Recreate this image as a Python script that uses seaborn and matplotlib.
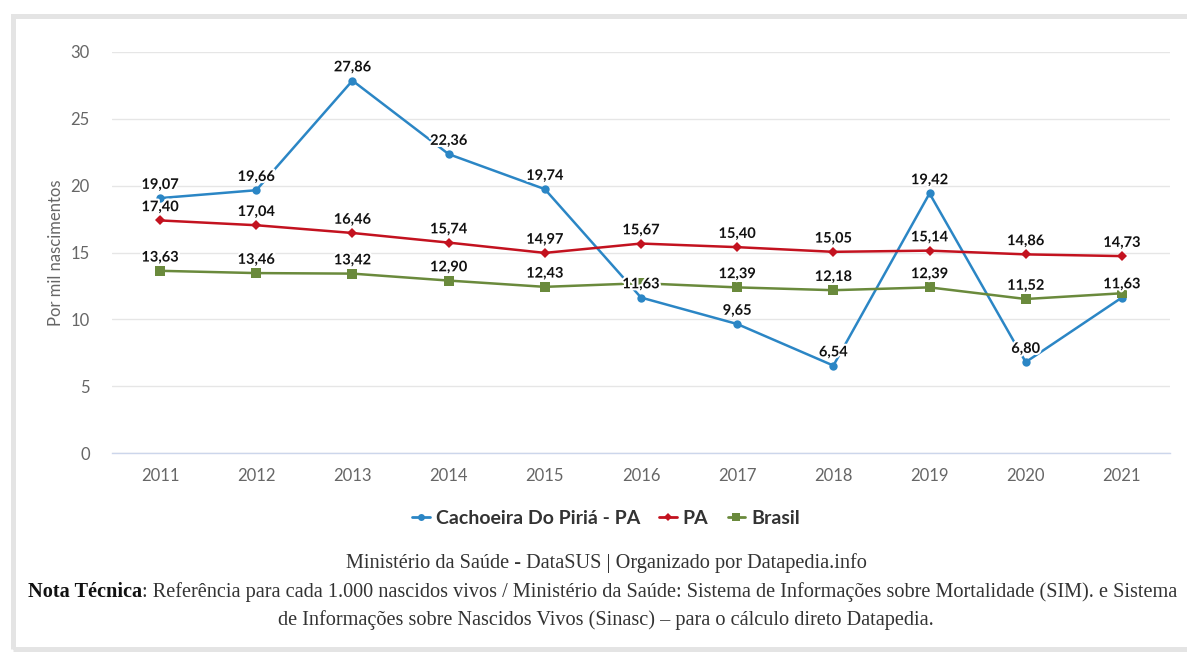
import numpy as np
import pandas as pd
import matplotlib.pyplot as plt
import matplotlib.patheffects as pe
from matplotlib.patches import Rectangle
from matplotlib.lines import Line2D
import seaborn as sns

# daten
anos = [2011, 2012, 2013, 2014, 2015, 2016, 2017, 2018, 2019, 2020, 2021]
cachoeira = [19.07, 19.66, 27.86, 22.36, 19.74, 11.63, 9.65, 6.54, 19.42, 6.80, 11.63]
pa = [17.40, 17.04, 16.46, 15.74, 14.97, 15.67, 15.40, 15.05, 15.14, 14.86, 14.73]
brasil = [13.63, 13.46, 13.42, 12.90, 12.43, 12.70, 12.39, 12.18, 12.39, 11.52, 11.95]
# welche labels angezeigt werden (im original sind zwei verdeckt)
brasil_show = [True, True, True, True, True, False, True, True, True, True, False]

series = ["Cachoeira Do Piriá - PA", "PA", "Brasil"]
cores = {"Cachoeira Do Piriá - PA": "#2b86c5", "PA": "#c3121f", "Brasil": "#6a8a3c"}
marcadores = {"Cachoeira Do Piriá - PA": "o", "PA": "D", "Brasil": "s"}
msize = {"Cachoeira Do Piriá - PA": 6, "PA": 5, "Brasil": 7}

df = pd.DataFrame({
    "Ano": anos * 3,
    "Valor": cachoeira + pa + brasil,
    "Serie": [s for s in series for _ in anos],
})

sns.set_style("white")
plt.rcParams["font.family"] = ["Lato", "DejaVu Sans"]

fig = plt.figure(figsize=(11.87, 6.52), dpi=100)
ax = fig.add_axes([112 / 1187, 1 - 453 / 652, (1170 - 112) / 1187, (453 - 52) / 652])

for s in series:
    sub = df[df["Serie"] == s]
    sns.lineplot(data=sub, x="Ano", y="Valor", ax=ax, color=cores[s], marker=marcadores[s],
                 markersize=msize[s], markeredgewidth=0, linewidth=1.8, legend=False)

# datenlabels
halo = [pe.withStroke(linewidth=3, foreground="white")]
for s, vals, show in [(series[0], cachoeira, [True] * 11), (series[1], pa, [True] * 11),
                      (series[2], brasil, brasil_show)]:
    for a, v, sh in zip(anos, vals, show):
        if not sh:
            continue
        ax.annotate(f"{v:.2f}".replace(".", ","), (a, v), xytext=(0, 4.5), textcoords="offset points",
                    ha="center", va="bottom", fontsize=10.5, fontweight="bold", color="#111111",
                    path_effects=halo, zorder=5)

ax.set_xlim(2010.5, 2021.5)
ax.set_ylim(0, 30)
ax.set_xticks(anos)
ax.set_xticklabels([str(a) for a in anos])
ax.set_xticks(np.arange(2010.5, 2022, 1), minor=True)
ax.set_yticks([0, 5, 10, 15, 20, 25, 30])
ax.tick_params(axis="x", which="major", length=0, pad=11, labelsize=12, labelcolor="#666666")
ax.tick_params(axis="x", which="minor", length=9, width=1, color="#ccd6eb")
ax.tick_params(axis="y", length=10, width=1, color="#e6e6e6", pad=6, labelsize=12, labelcolor="#666666")
ax.grid(axis="y", color="#e6e6e6", linewidth=1)
ax.set_axisbelow(True)
for sp in ["top", "right", "left"]:
    ax.spines[sp].set_visible(False)
ax.spines["bottom"].set_color("#ccd6eb")
ax.spines["bottom"].set_linewidth(1)
ax.set_xlabel("")
ax.set_ylabel("Por mil nascimentos", fontsize=12, color="#666666", labelpad=5)

# legende
handles = [Line2D([0], [0], color=cores[s], marker=marcadores[s], markersize=msize[s] - 1,
                  markeredgewidth=0, linewidth=2) for s in series]
leg = fig.legend(handles, series, loc="center", bbox_to_anchor=(606 / 1187, 1 - 518 / 652), ncol=3,
                 frameon=False, handlelength=0.9, handletextpad=0.3, columnspacing=1.0,
                 prop={"family": ["Lato", "DejaVu Sans"], "weight": "bold", "size": 14})
for t in leg.get_texts():
    t.set_color("#333333")

# rahmen
fig.add_artist(Rectangle((12.5 / 1187, 1 - 649 / 652), 1.2, (649 - 15.5) / 652, transform=fig.transFigure,
                         fill=False, edgecolor="#e4e4e4", linewidth=3.6, zorder=0))

# fusszeile
serif = ["Liberation Serif", "DejaVu Serif"]
fs = 14.6
fig.text(606 / 1187, 1 - 563 / 652, "Ministério da Saúde - DataSUS | Organizado por Datapedia.info",
         ha="center", va="center", fontsize=fs, family=serif, color="#333333")
t1 = fig.text(28 / 1187, 1 - 592 / 652, "Nota Técnica", ha="left", va="center", fontsize=fs,
              family=serif, weight="bold", color="#111111")
fig.canvas.draw()
bb = t1.get_window_extent()
fig.text(bb.x1 / 1187, 1 - 592 / 652,
         ": Referência para cada 1.000 nascidos vivos / Ministério da Saúde: Sistema de Informações sobre "
         "Mortalidade (SIM). e Sistema", ha="left", va="center", fontsize=fs, family=serif, color="#333333")
fig.text(606 / 1187, 1 - 620 / 652,
         "de Informações sobre Nascidos Vivos (Sinasc) – para o cálculo direto Datapedia.",
         ha="center", va="center", fontsize=fs, family=serif, color="#333333")

plt.savefig("out.png", dpi=100)
